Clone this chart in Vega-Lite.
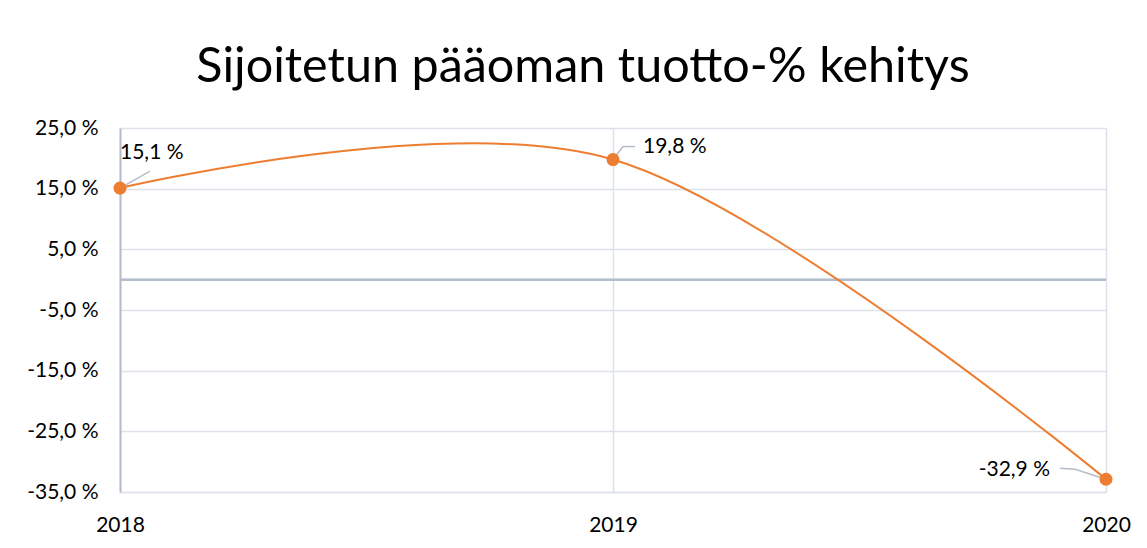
{
  "$schema": "https://vega.github.io/schema/vega-lite/v6.json",
  "autosize": {"type": "none"},
  "width": 986,
  "height": 364,
  "padding": {"left": 120, "top": 128, "right": 41, "bottom": 56},
  "background": "white",
  "title": {
    "text": "Sijoitetun pääoman tuotto-% kehitys",
    "font": "Lato",
    "fontSize": 48.5,
    "fontWeight": "normal",
    "color": "#000000",
    "anchor": "middle",
    "baseline": "alphabetic",
    "dx": -30,
    "dy": 59,
    "offset": 46
  },
  "data": {
    "values": [
      {"year": 2018, "value": 15.1, "label": "15,1 %"},
      {"year": 2019, "value": 19.8, "label": "19,8 %"},
      {"year": 2020, "value": -32.9, "label": "-32,9 %"}
    ]
  },
  "encoding": {
    "x": {
      "field": "year",
      "type": "quantitative",
      "scale": {"domain": [2018, 2020], "nice": false, "zero": false},
      "axis": {
        "tickCount": 3,
        "tickMinStep": 1,
        "format": "d",
        "title": null,
        "grid": true,
        "gridColor": "#dde2ea",
        "gridWidth": 1.5,
        "domainColor": "#dde2ea",
        "domainWidth": 1.5,
        "ticks": false,
        "labelFlush": false,
        "labelOverlap": false,
        "labelPadding": 22,
        "labelFont": "Lato",
        "labelFontSize": 21,
        "labelColor": "#000000"
      }
    },
    "y": {
      "field": "value",
      "type": "quantitative",
      "scale": {"domain": [-35, 25], "nice": false, "zero": false},
      "axis": {
        "values": [-35, -25, -15, -5, 5, 15, 25],
        "labelExpr": "replace(replace(format(datum.value, '.1f'), '.', ','), '−', '-') + ' %'",
        "title": null,
        "grid": true,
        "gridColor": "#dde2ea",
        "gridWidth": 1.5,
        "domainColor": "#b4bdca",
        "domainWidth": 2,
        "ticks": false,
        "labelPadding": 22,
        "labelFont": "Lato",
        "labelFontSize": 21,
        "labelColor": "#000000"
      }
    }
  },
  "layer": [
    {
      "mark": {"type": "rule", "color": "#b4bdca", "strokeWidth": 2},
      "encoding": {"x": null, "y": {"datum": 0, "type": "quantitative"}}
    },
    {
      "mark": {"type": "line", "interpolate": "cardinal", "color": "#ED7D31", "strokeWidth": 2}
    },
    {
      "transform": [{"filter": "datum.year == 2018"}],
      "mark": {"type": "rule", "color": "#b4bdca", "strokeWidth": 1.5, "x2Offset": 30, "y2Offset": -17},
      "encoding": {"x2": {"field": "year"}, "y2": {"field": "value"}}
    },
    {
      "transform": [{"filter": "datum.year == 2019"}],
      "mark": {"type": "rule", "color": "#b4bdca", "strokeWidth": 1.5, "x2Offset": 10, "y2Offset": -13},
      "encoding": {"x2": {"field": "year"}, "y2": {"field": "value"}}
    },
    {
      "transform": [{"filter": "datum.year == 2019"}],
      "mark": {"type": "rule", "color": "#b4bdca", "strokeWidth": 1.5, "xOffset": 10, "yOffset": -13, "x2Offset": 22, "y2Offset": -13},
      "encoding": {"x2": {"field": "year"}, "y2": {"field": "value"}}
    },
    {
      "transform": [{"filter": "datum.year == 2020"}],
      "mark": {"type": "rule", "color": "#b4bdca", "strokeWidth": 1.5, "xOffset": -46, "yOffset": -11, "x2Offset": -31, "y2Offset": -10},
      "encoding": {"x2": {"field": "year"}, "y2": {"field": "value"}}
    },
    {
      "transform": [{"filter": "datum.year == 2020"}],
      "mark": {"type": "rule", "color": "#b4bdca", "strokeWidth": 1.5, "xOffset": -31, "yOffset": -10},
      "encoding": {"x2": {"field": "year"}, "y2": {"field": "value"}}
    },
    {
      "mark": {"type": "point", "filled": true, "opacity": 1, "color": "#ED7D31", "size": 170}
    },
    {
      "transform": [{"filter": "datum.year == 2018"}],
      "mark": {"type": "text", "font": "Lato", "fontSize": 21, "color": "#000000", "align": "left", "baseline": "middle", "dx": 0, "dy": -35},
      "encoding": {"text": {"field": "label"}}
    },
    {
      "transform": [{"filter": "datum.year == 2019"}],
      "mark": {"type": "text", "font": "Lato", "fontSize": 21, "color": "#000000", "align": "left", "baseline": "middle", "dx": 30, "dy": -13},
      "encoding": {"text": {"field": "label"}}
    },
    {
      "transform": [{"filter": "datum.year == 2020"}],
      "mark": {"type": "text", "font": "Lato", "fontSize": 21, "color": "#000000", "align": "right", "baseline": "middle", "dx": -56, "dy": -9},
      "encoding": {"text": {"field": "label"}}
    }
  ],
  "config": {
    "view": {"stroke": null}
  }
}
